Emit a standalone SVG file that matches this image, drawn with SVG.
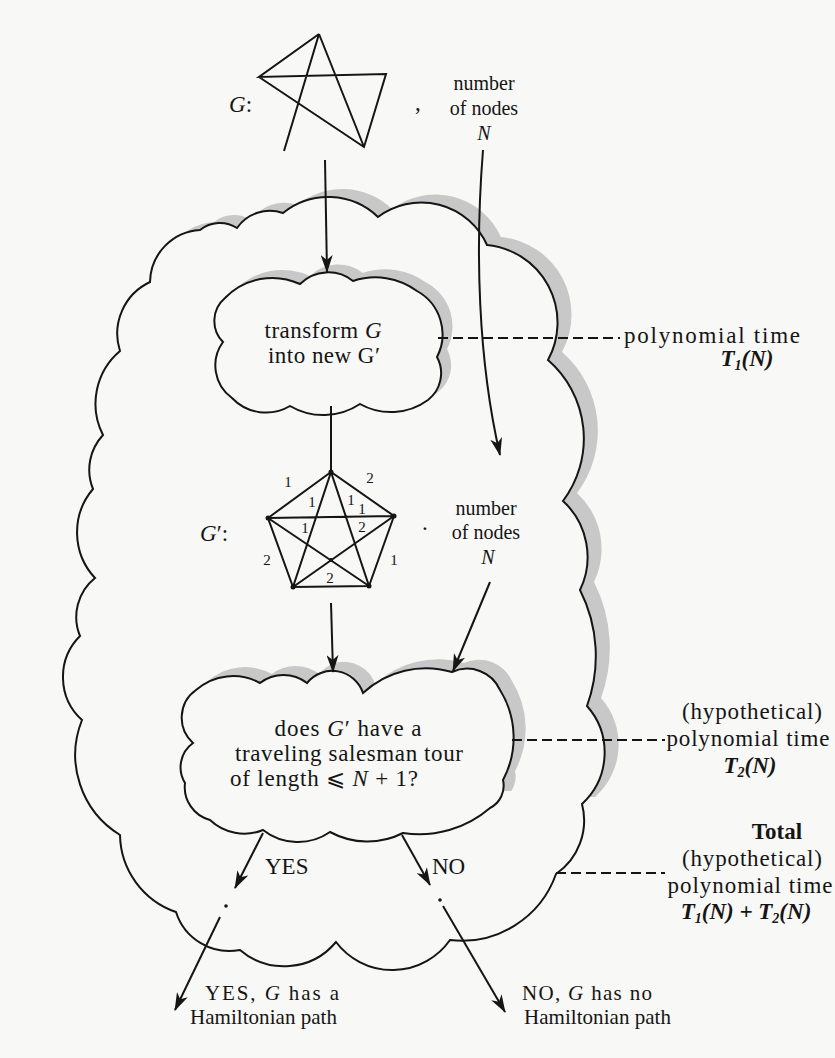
<svg xmlns="http://www.w3.org/2000/svg" width="835" height="1058" viewBox="0 0 835 1058">
<style>
.t{font-family:"Liberation Serif","Times New Roman","DejaVu Serif",serif;font-size:23px;fill:#151515}
.s{font-size:20px}
.m{font-size:21px}
.i{font-style:italic}
.b{font-weight:bold}
.lbl{font-size:15px}
.cloud{fill:#f8f8f6;stroke:#151515;stroke-width:2}
.shadow{fill:#c8c8c8}
.edge{stroke:#151515;stroke-width:2;fill:none}
.conn{stroke:#151515;stroke-width:2;fill:none}
.dash{stroke:#151515;stroke-width:2;stroke-dasharray:10 5;fill:none}
</style>
<defs>
<marker id="ah" markerWidth="18" markerHeight="12" refX="17" refY="6" orient="auto" markerUnits="userSpaceOnUse">
<path d="M0,0 L18,6 L0,12 L5,6 Z" fill="#151515"/>
</marker>
<clipPath id="clipBig"><rect x="0" y="0" width="835" height="805"/></clipPath>
<clipPath id="clipC2"><rect x="0" y="0" width="835" height="800"/></clipPath>
<path id="bigCloud" d="M200,230 A31.5,31.5 0 0 1 237,228 A40,40 0 0 1 283,213 A72,72 0 0 1 378,217 A72,72 0 0 1 487,245 A78,78 0 0 1 548,360 A104,104 0 0 1 563,501 A76,76 0 0 1 580,590 A146,146 0 0 1 587,706 A70,70 0 0 1 582,804 A65,65 0 0 1 556,874 A100,100 0 0 1 450,940 A70.5,70.5 0 0 1 336,942 A67.6,67.6 0 0 1 240,950 A56,56 0 0 1 176,912 A83,83 0 0 1 120,835 A94,94 0 0 1 82,720 A58,58 0 0 1 80,636 A50,50 0 0 1 95,578 A67,67 0 0 1 93,489 A51,51 0 0 1 103,435 A69,69 0 0 1 120,351 A57,57 0 0 1 150,282 A53,53 0 0 1 200,230 Z"/>
<path id="cloud1" d="M225,298 A66,66 0 0 1 300,284 A40,40 0 0 1 353,281 A70,70 0 0 1 417,291 A49.5,49.5 0 0 1 437,357 A34,34 0 0 1 428,400 A63,63 0 0 1 360,404 A66,66 0 0 1 290,406 A47,47 0 0 1 232,398 A40,40 0 0 1 223,342 A30,30 0 0 1 225,298 Z"/>
<path id="cloud2" d="M196,690 A56,56 0 0 1 260,683 A38.5,38.5 0 0 1 307,683 A32.4,32.4 0 0 1 363,693 A92,92 0 0 1 452,672 A36,36 0 0 1 500,690 A90,90 0 0 1 503,780 A25,25 0 0 1 490,808 A108,108 0 0 1 403,833 A78.5,78.5 0 0 1 330,832 A56.5,56.5 0 0 1 263,830 A50,50 0 0 1 210,820 A34,34 0 0 1 185,783 A30,30 0 0 1 193,743 A34,34 0 0 1 196,690 Z"/>
</defs>
<rect width="835" height="1058" fill="#f8f8f6"/>

<g id="node-total">
<use href="#bigCloud" class="shadow" transform="translate(14,-8)" clip-path="url(#clipBig)"/>
<use href="#bigCloud" class="cloud"/>
</g>

<g id="node-input-G">
<text x="229" y="112" class="t"><tspan class="i">G</tspan>:</text>
<path class="edge" d="M319,34 L259,77 L386,74 L364,147 L259,77 M319,34 L364,147 M319,34 L284,151"/>
<text x="415" y="110" class="t">,</text>
<text x="484" y="90" class="t s" text-anchor="middle">number</text>
<text x="484" y="115" class="t s" text-anchor="middle">of nodes</text>
<text x="484" y="140" class="t s i" text-anchor="middle">N</text>
</g>

<g id="node-transform">
<use href="#cloud1" class="shadow" transform="translate(10,-8)"/>
<use href="#cloud1" class="cloud"/>
<text x="323" y="338" class="t" text-anchor="middle" textLength="117" lengthAdjust="spacing">transform <tspan class="i">G</tspan></text>
<text x="324" y="363" class="t" text-anchor="middle" textLength="112" lengthAdjust="spacing">into new G′</text>
</g>

<g id="node-Gprime">
<text x="200" y="541" class="t"><tspan class="i">G</tspan>′:</text>
<path class="edge" d="M331,472 L268,518 L293,587 L369,586 L394,516 Z M331,472 L293,587 M331,472 L369,586 M268,518 L394,516 M268,518 L369,586 M394,516 L293,587" stroke-width="1.8"/>
<g fill="#151515"><circle cx="331" cy="472" r="2.5"/><circle cx="268" cy="518" r="2.5"/><circle cx="394" cy="516" r="2.5"/><circle cx="293" cy="587" r="2.5"/><circle cx="369" cy="586" r="2.5"/><circle cx="331" cy="560" r="2"/></g>
<g class="t lbl" text-anchor="middle">
<text x="288" y="487">1</text>
<text x="370" y="483">2</text>
<text x="312" y="507">1</text>
<text x="351" y="505">1</text>
<text x="362" y="514">1</text>
<text x="305" y="533">1</text>
<text x="362" y="532">2</text>
<text x="267" y="565">2</text>
<text x="394" y="565">1</text>
<text x="330" y="583">2</text>
</g>
<text x="422" y="530" class="t">.</text>
<text x="486" y="515" class="t s" text-anchor="middle">number</text>
<text x="486" y="539" class="t s" text-anchor="middle">of nodes</text>
<text x="488" y="564" class="t s i" text-anchor="middle">N</text>
</g>

<g id="node-tsp">
<use href="#cloud2" class="shadow" transform="translate(12,-9)" clip-path="url(#clipC2)"/>
<use href="#cloud2" class="cloud"/>
<text x="348" y="736" class="t" text-anchor="middle" textLength="147" lengthAdjust="spacing">does <tspan class="i">G</tspan>′ have a</text>
<text x="349" y="761" class="t" text-anchor="middle" textLength="228" lengthAdjust="spacing">traveling salesman tour</text>
<text x="324" y="786" class="t" text-anchor="middle" textLength="188" lengthAdjust="spacing">of length ⩽ <tspan class="i">N</tspan> + 1?</text>
</g>

<g id="label-T1">
<text x="712" y="343" class="t" text-anchor="middle" textLength="176" lengthAdjust="spacing">polynomial time</text>
<text x="747" y="366" class="t b i" text-anchor="middle">T<tspan font-size="14" dy="4">1</tspan><tspan dy="-4">(N)</tspan></text>
</g>
<g id="label-T2">
<text x="752" y="719" class="t" text-anchor="middle" textLength="140" lengthAdjust="spacing">(hypothetical)</text>
<text x="748" y="746" class="t" text-anchor="middle" textLength="163" lengthAdjust="spacing">polynomial time</text>
<text x="750" y="773" class="t b i" text-anchor="middle">T<tspan font-size="14" dy="4">2</tspan><tspan dy="-4">(N)</tspan></text>
</g>
<g id="label-total">
<text x="777" y="839" class="t b" text-anchor="middle">Total</text>
<text x="752" y="866" class="t" text-anchor="middle" textLength="140" lengthAdjust="spacing">(hypothetical)</text>
<text x="750" y="893" class="t" text-anchor="middle" textLength="165" lengthAdjust="spacing">polynomial time</text>
<text x="746" y="919" class="t b i" text-anchor="middle">T<tspan font-size="14" dy="4">1</tspan><tspan dy="-4">(N) + T</tspan><tspan font-size="14" dy="4">2</tspan><tspan dy="-4">(N)</tspan></text>
</g>

<g id="node-yes">
<text x="265" y="874" class="t">YES</text>
<text x="205" y="1000" class="t m" textLength="134" lengthAdjust="spacing">YES, <tspan class="i">G</tspan> has a</text>
<text x="190" y="1024" class="t m" textLength="147" lengthAdjust="spacing">Hamiltonian path</text>
</g>
<g id="node-no">
<text x="432" y="874" class="t">NO</text>
<text x="522" y="1000" class="t m" textLength="130" lengthAdjust="spacing">NO, <tspan class="i">G</tspan> has no</text>
<text x="524" y="1024" class="t m" textLength="147" lengthAdjust="spacing">Hamiltonian path</text>
</g>

<g id="connectors">
<line class="conn" x1="325" y1="160" x2="327" y2="272" marker-end="url(#ah)"/>
<path class="conn" d="M483,150 C475,250 478,360 500,455" marker-end="url(#ah)"/>
<line class="conn" x1="331" y1="406" x2="331" y2="472"/>
<line class="conn" x1="331" y1="603" x2="333" y2="672" marker-end="url(#ah)"/>
<line class="conn" x1="490" y1="582" x2="453" y2="671" marker-end="url(#ah)"/>
<line class="conn" x1="263" y1="833" x2="235" y2="888" marker-end="url(#ah)"/>
<circle cx="226" cy="906" r="1.8" fill="#151515"/>
<line class="conn" x1="220" y1="917" x2="175" y2="1010" marker-end="url(#ah)"/>
<line class="conn" x1="402" y1="835" x2="430" y2="885" marker-end="url(#ah)"/>
<circle cx="440" cy="900" r="1.8" fill="#151515"/>
<line class="conn" x1="443" y1="906" x2="505" y2="1012" marker-end="url(#ah)"/>
<line class="dash" x1="438" y1="338" x2="620" y2="338"/>
<line class="dash" x1="512" y1="740" x2="665" y2="740"/>
<line class="dash" x1="556" y1="873" x2="665" y2="873"/>
</g>
</svg>
